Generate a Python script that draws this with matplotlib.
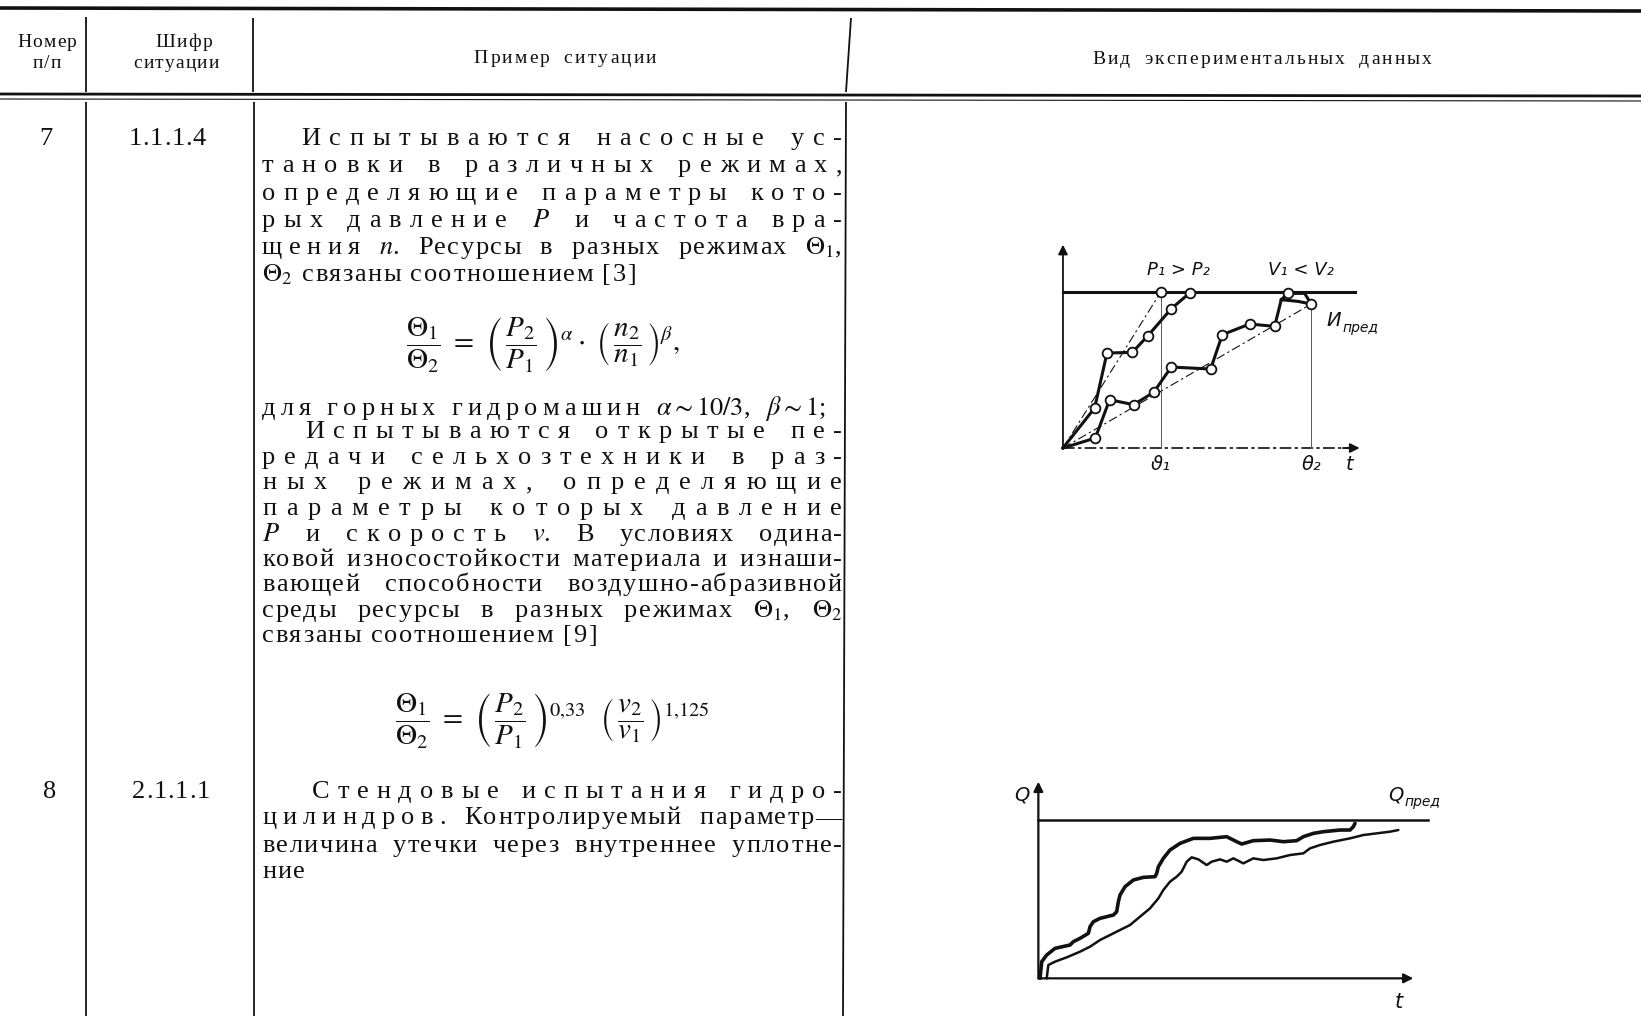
import matplotlib
matplotlib.use("Agg")
import matplotlib.pyplot as plt

plt.rcParams['font.family'] = ['Liberation Serif', 'DejaVu Serif']
plt.rcParams['mathtext.fontset'] = 'stix'

# ---------------- table content ----------------
header_no = ["Номер", "п/п"]
header_code = ["Шифр", "ситуации"]
header_example = "Пример ситуации"
header_data = "Вид экспериментальных данных"

row_numbers = ["7", "8"]
row_codes = ["1.1.1.4", "2.1.1.1"]

# "~" = word set in spaced letters, "$...$" = formula piece
text7_a = [
    "~Испытываются ~насосные ~ус-",
    "~тановки ~в ~различных ~режимах,",
    "~определяющие ~параметры ~кото-",
    "~рых ~давление $P$ ~и ~частота ~вра-",
    "~щения $n$. Ресурсы в разных режимах $\\Theta_1$,",
    "$\\Theta_2$ связаны соотношением [3]",
]
formula7_a = (r"$\dfrac{\Theta_1}{\Theta_2}\ =\ \left(\,\dfrac{P_2}{P_1}\,\right)^{\alpha}"
              r"\cdot\ \left(\,\dfrac{n_2}{n_1}\,\right)^{\beta},$")
text7_note = "~для ~горных ~гидромашин $\\alpha\\sim10/3$, $\\beta\\sim1$;"
text7_b = [
    "~Испытываются ~открытые ~пе-",
    "~редачи ~сельхозтехники ~в ~раз-",
    "~ных ~режимах, ~определяющие",
    "~параметры ~которых ~давление",
    "$P$ ~и ~скорость $v$. В условиях одина-",
    "ковой износостойкости материала и изнаши-",
    "вающей способности воздушно-абразивной",
    "среды ресурсы в разных режимах $\\Theta_1$, $\\Theta_2$",
    "связаны соотношением [9]",
]
formula7_b = (r"$\dfrac{\Theta_1}{\Theta_2}\ =\ \left(\,\dfrac{P_2}{P_1}\,\right)^{0{,}33}\ \ "
              r"\left(\,\dfrac{v_2}{v_1}\,\right)^{1{,}125}$")
text8 = [
    "~Стендовые ~испытания ~гидро-",
    "~цилиндров. Контролируемый параметр—",
    "величина утечки через внутреннее уплотне-",
    "ние",
]

# ---------------- chart 7: wear vs time, two regimes ----------------
p_t = [0, 9.5, 13.2, 20.8, 25.5, 32.5, 38.0]
p_u = [0, 12.0, 28.5, 28.7, 33.7, 41.8, 46.5]
v_t = [0, 9.7, 14.0, 21.2, 27.2, 32.5, 44.3, 47.8, 56.0, 63.5, 65.5, 67.5, 72.5, 74.5, 70.5, 65.5]
v_u = [0, 3.0, 14.5, 13.0, 16.7, 24.3, 23.7, 34.0, 37.2, 36.5, 44.5, 46.4, 46.4, 43.2, 44.0, 44.5]
v_marks = [1, 2, 3, 4, 5, 6, 7, 8, 9, 11, 13]
u_limit = 46.7
theta1 = 29.3
theta2 = 74.5
u_theta2 = 43.2

# ---------------- chart 8: leakage vs time ----------------
q1_t = [0.5, 1.0, 2.5, 5.0, 9.5, 10.5, 12.5, 15.0, 15.5, 16.5, 18.5, 22.5, 23.5, 24.0,
        24.5, 26.0, 28.5, 31.5, 35.0, 35.5, 36.0, 37.5, 39.5, 42.5, 46.5, 51.5, 56.5,
        59.5, 61.0, 64.5, 69.5, 73.5, 77.5, 79.5, 82.5, 85.5, 90.5, 93.5, 94.5, 95.0]
q1_v = [0.0, 5.0, 7.0, 9.0, 10.0, 11.0, 12.0, 13.5, 15.5, 17.0, 18.0, 19.0, 20.0, 23.0,
        25.0, 27.5, 29.5, 30.3, 30.5, 31.5, 33.5, 36.0, 38.5, 40.5, 42.0, 42.0, 42.5,
        41.0, 40.3, 41.3, 41.5, 41.0, 41.3, 42.5, 43.5, 44.0, 44.5, 44.5, 45.5, 46.5]
q2_t = [2.5, 3.0, 5.0, 8.5, 12.5, 15.5, 18.5, 21.5, 24.5, 27.5, 30.5, 33.5, 36.0, 37.5,
        39.5, 41.5, 43.0, 44.5, 46.0, 48.0, 50.5, 52.0, 54.5, 56.5, 58.5, 61.5, 64.5,
        67.5, 71.5, 75.5, 79.5, 81.5, 84.5, 88.5, 93.5, 97.5, 101.5, 105.5, 108.0]
q2_v = [0.0, 4.0, 5.0, 6.3, 8.0, 9.5, 11.5, 13.0, 14.5, 16.0, 18.5, 21.0, 24.0, 26.5,
        29.0, 30.5, 32.0, 35.0, 36.3, 35.7, 34.0, 35.0, 35.7, 35.0, 36.0, 34.5, 36.0,
        35.5, 36.0, 37.0, 37.5, 39.0, 40.0, 41.0, 42.0, 43.0, 43.5, 44.0, 44.5]
q_limit = 47.5

W, H = 1641, 1016
INK = '#111111'

fig = plt.figure(figsize=(W / 100, H / 100), dpi=100)
ax = fig.add_axes([0, 0, 1, 1])
ax.set_xlim(0, W)
ax.set_ylim(H, 0)
ax.axis('off')
rend = fig.canvas.get_renderer()

_cache = {}


def width(s, size):
    key = (s, size)
    if key not in _cache:
        t = ax.text(0, 0, s, fontsize=size)
        _cache[key] = t.get_window_extent(rend).width
        t.remove()
    return _cache[key]


def draw_line(y, line, x0=262, x1=842, size=19, justify=True, track=1.5,
              ratio=3.0, center=None, gap=None, sgap=None):
    em = size * 100 / 72
    words = []
    fixed, nsp = 0.0, 0
    for tok in line.split(' '):
        spaced = tok.startswith('~')
        tok = tok.lstrip('~')
        atoms = [tok] if '$' in tok else list(tok)
        ws = [width(a, size) for a in atoms]
        fixed += sum(ws)
        if spaced:
            nsp += len(atoms) - 1
        else:
            fixed += track * (len(atoms) - 1)
        words.append((atoms, ws, spaced))
    nw = len(words)
    if justify and nw > 1:
        G = (x1 - x0 - fixed) / ((nw - 1) + nsp / ratio)
        g = G / ratio
    else:
        G = gap if gap is not None else 0.3 * em + track
        g = sgap if sgap is not None else 0.2 * em
    total = fixed + g * nsp + G * (nw - 1)
    x = x0 if center is None else center - total / 2
    for atoms, ws, spaced in words:
        step = g if spaced else track
        for a, w in zip(atoms, ws):
            ax.text(x, y, a, fontsize=size, va='baseline', ha='left', color=INK)
            x += w + step
        x += G - step


# ---------------- rules of the table ----------------
rule = dict(color=INK, solid_capstyle='butt')
ax.plot([0, W], [8, 11], lw=2.6, **rule)
ax.plot([0, W], [94, 96], lw=2.0, **rule)
ax.plot([0, W], [99, 101], lw=0.8, **rule)
for xs, ys in [((86, 86), (17, 92)), ((86, 86), (102, H)),
               ((253, 253), (18, 92)), ((254, 254), (102, H)),
               ((851, 846), (18, 92)), ((846, 843), (102, H))]:
    ax.plot(xs, ys, lw=1.3, **rule)

# ---------------- header ----------------
hdr = dict(size=14, justify=False, track=1.2, gap=14)
draw_line(47, header_no[0], center=47, **hdr)
draw_line(68, header_no[1], center=47, **hdr)
draw_line(47, header_code[0], center=184, **hdr)
draw_line(68, header_code[1], center=176, **hdr)
draw_line(63, header_example, center=565, **dict(hdr, track=2.2))
draw_line(64, header_data, center=1262, **dict(hdr, track=2.2))

# ---------------- row 7 ----------------
draw_line(145, row_numbers[0], justify=False, center=46)
draw_line(145, row_codes[0], justify=False, track=0.8, center=167)
base = [145, 172, 200, 227, 254, 281]
for i, (y, s) in enumerate(zip(base, text7_a)):
    draw_line(y, s, x0=301 if i == 0 else 262, justify=i < len(text7_a) - 1)
ax.text(543, 345, formula7_a, fontsize=21, ha='center', va='center', color=INK)
draw_line(415, text7_note, x1=826)
base = [438, 464, 489, 515, 541, 566, 591, 617, 642]
for i, (y, s) in enumerate(zip(base, text7_b)):
    draw_line(y, s, x0=305 if i == 0 else 262, justify=i < len(text7_b) - 1)
ax.text(552, 720, formula7_b, fontsize=21, ha='center', va='center', color=INK)

# ---------------- row 8 ----------------
draw_line(798, row_numbers[1], justify=False, center=50)
draw_line(798, row_codes[1], justify=False, track=0.8, center=171)
base = [798, 824, 852, 878]
for i, (y, s) in enumerate(zip(base, text8)):
    draw_line(y, s, x0=312 if i == 0 else 262, justify=i < len(text8) - 1)

lab = dict(family='DejaVu Sans', style='italic', color=INK)
arrow = dict(arrowstyle='-|>', color=INK, lw=1.3, mutation_scale=14, shrinkA=0, shrinkB=0)

# ---------------- chart 7 ----------------
ax1 = fig.add_axes([1046.3 / W, 1 - 474.7 / H, 333.3 / W, 260 / H])
ax1.set_xlim(-5, 95)
ax1.set_ylim(-8, 70)
ax1.axis('off')
ax1.annotate('', xy=(0, 61), xytext=(0, 0), arrowprops=arrow)
ax1.plot([0, 86], [0, 0], lw=1.2, ls=(0, (7, 2, 2, 2)), color=INK)
ax1.annotate('', xy=(89, 0), xytext=(84, 0), arrowprops=arrow)
ax1.plot([0, 87.5], [u_limit, u_limit], lw=2.2, color=INK)
ax1.plot([0, theta1], [0, u_limit], lw=0.8, ls=(0, (8, 3, 2, 3)), color=INK)
ax1.plot([0, theta2], [0, u_theta2], lw=0.8, ls=(0, (8, 3, 2, 3)), color=INK)
ax1.plot([theta1, theta1], [0, u_limit], lw=0.7, color='0.35')
ax1.plot([theta2, theta2], [0, u_theta2], lw=0.7, color='0.35')
ax1.plot(p_t, p_u, '-o', lw=2.2, color=INK, ms=7, mfc='white', mec=INK, mew=1.3,
         markevery=list(range(1, len(p_t))), solid_joinstyle='round')
ax1.plot([theta1], [u_limit], 'o', ms=7, mfc='white', mec=INK, mew=1.3)
ax1.plot(v_t, v_u, '-o', lw=2.2, color=INK, ms=7, mfc='white', mec=INK, mew=1.3,
         markevery=v_marks, solid_joinstyle='round')
ax1.text(34.5, 53.5, "P₁ > P₂", fontsize=13, ha='center', va='center', **lab)
ax1.text(71.4, 53.5, "V₁ < V₂", fontsize=13, ha='center', va='center', **lab)
ax1.text(79.0, 38.4, "И", fontsize=14, ha='left', va='center', **lab)
ax1.text(84.0, 36.0, "пред", fontsize=10, ha='left', va='center', **lab)
ax1.text(theta1, -5, "ϑ₁", fontsize=14, ha='center', va='center', **lab)
ax1.text(theta2, -5, "θ₂", fontsize=14, ha='center', va='center', **lab)
ax1.text(86, -5, "t", fontsize=14, ha='center', va='center', **lab)

# ---------------- chart 8 ----------------
ax2 = fig.add_axes([1011.7 / W, 1 - 1015 / H, 433.3 / W, 243.3 / H])
ax2.set_xlim(-8, 122)
ax2.set_ylim(-11, 62)
ax2.axis('off')
ax2.annotate('', xy=(0, 59), xytext=(0, 0), arrowprops=dict(arrow, lw=1.6))
ax2.annotate('', xy=(112.5, 0), xytext=(0, 0), arrowprops=dict(arrow, lw=1.6))
ax2.plot([0, 117], [q_limit, q_limit], lw=1.8, color=INK)
ax2.plot(q1_t, q1_v, lw=2.6, color=INK, solid_joinstyle='round', solid_capstyle='round')
ax2.plot(q2_t, q2_v, lw=1.8, color=INK, solid_joinstyle='round', solid_capstyle='round')
ax2.text(-5, 55, "Q", fontsize=14, ha='center', va='center', **lab)
ax2.text(105.0, 55, "Q", fontsize=14, ha='left', va='center', **lab)
ax2.text(109.8, 53.0, "пред", fontsize=10, ha='left', va='center', **lab)
ax2.text(108, -7, "t", fontsize=15, ha='center', va='center', **lab)

fig.savefig('out.png', dpi=100, facecolor='white')
